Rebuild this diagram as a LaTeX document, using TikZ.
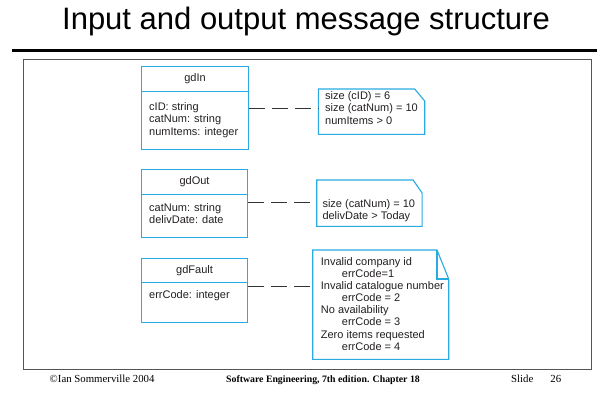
\documentclass[tikz,border=0pt]{standalone}
\usepackage{fontspec}
\setmainfont{Liberation Sans}
\newfontfamily\footfont{Liberation Serif}
\usetikzlibrary{calc}
\definecolor{umlblue}{RGB}{41,171,226}
\definecolor{framegray}{RGB}{85,85,85}
\definecolor{textc}{RGB}{35,31,32}
\begin{document}
\begin{tikzpicture}[x=1pt,y=-1pt,
  umlfont/.style={font=\fontsize{11}{12.5}\selectfont},
  hdr/.style={draw=umlblue, line width=1.1pt, anchor=north west, inner sep=0pt, umlfont, text=textc},
  bodybox/.style={draw=umlblue, line width=1.1pt, anchor=north west, inner sep=0pt},
  attr/.style={anchor=north west, inner sep=0pt, align=left, umlfont, text=textc},
  noteframe/.style={anchor=north west, inner sep=0pt},
  noteline/.style={draw=umlblue, line width=1.1pt, line join=miter},
  conn/.style={draw=black!80, line width=0.9pt, dash pattern=on 16pt off 7pt},
  foot/.style={anchor=base west, inner sep=0pt, font=\footfont\fontsize{10.8}{12}\selectfont}
]
\useasboundingbox (0,0) rectangle (597,402);

% title and rule
\node[anchor=base, inner sep=0pt, font=\fontsize{31}{35}\selectfont] (title) at (306,29.3) {Input and output message structure};
\draw[line width=3pt] (11.7,50.3) -- (597,50.3);

% frame
\draw[framegray, line width=1.2pt] (23.5,59.5) rectangle (591.7,369.5);

% gdIn
\node[hdr, minimum width=107pt, minimum height=25pt] (gdInH) at (141,66) {gdIn};
\node[bodybox, minimum width=107pt, minimum height=58pt] (gdInB) at (141,91) {};
\node[attr] (gdInA) at (149,102) {cID: string\\catNum: string\\numItems: integer};

% gdOut
\node[hdr, minimum width=106pt, minimum height=25pt] (gdOutH) at (141,168.5) {gdOut};
\node[bodybox, minimum width=106pt, minimum height=43pt] (gdOutB) at (141,193.5) {};
\node[attr] (gdOutA) at (149,203) {catNum: string\\delivDate: date};

% gdFault
\node[hdr, minimum width=106pt, minimum height=24pt] (gdFaultH) at (141,257.7) {gdFault};
\node[bodybox, minimum width=106pt, minimum height=40pt] (gdFaultB) at (141,281.7) {};
\node[attr] (gdFaultA) at (149,290.5) {errCode: integer};

% note 1
\node[noteframe, minimum width=106pt, minimum height=45pt] (n1) at (318.3,89) {};
\draw[noteline] (n1.north west) -- ($(n1.north east)+(-10,0)$) -- ($(n1.north east)+(0,12)$) -- (n1.south east) -- (n1.south west) -- cycle;
\node[attr] (n1t) at (325,91) {size (cID) = 6\\size (catNum) = 10\\numItems > 0};

% note 2
\node[noteframe, minimum width=105pt, minimum height=46pt] (n2) at (316.7,180) {};
\draw[noteline] (n2.north west) -- ($(n2.north east)+(-9,0)$) -- ($(n2.north east)+(0,13)$) -- (n2.south east) -- (n2.south west) -- cycle;
\node[attr, font=\fontsize{11}{12}\selectfont] (n2t) at (322.3,199) {size (catNum) = 10\\delivDate > Today};

% note 3
\node[noteframe, minimum width=135.6pt, minimum height=109pt] (n3) at (312.7,250) {};
\draw[noteline] (n3.north west) -- ($(n3.north east)+(-11.7,0)$) -- ($(n3.north east)+(0,29)$) -- (n3.south east) -- (n3.south west) -- cycle;
\draw[noteline] ($(n3.north east)+(-11.7,0)$) -- ($(n3.north east)+(-11.7,29)$) -- ($(n3.north east)+(0,29)$);
\node[attr, font=\fontsize{11}{12.14}\selectfont] (n3t) at (320.7,257) {Invalid company id\\\hspace*{21pt}errCode=1\\Invalid catalogue number\\\hspace*{21pt}errCode = 2\\No availability\\\hspace*{21pt}errCode = 3\\Zero items requested\\\hspace*{21pt}errCode = 4};

% connectors
\path (gdInB.north east) ++(0,17.3) coordinate (c1);
\draw[conn] (c1) -- (c1 -| n1.west);
\path (gdOutB.north east) ++(0,9.2) coordinate (c2);
\draw[conn] (c2) -- (c2 -| n2.west);
\path (gdFaultB.north east) ++(0,5) coordinate (c3);
\draw[conn] (c3) -- (c3 -| n3.west);

% footer
\node[foot] (f1) at (49.5,382) {\textcopyright Ian Sommerville 2004};
\node[foot, anchor=base, font=\footfont\bfseries\fontsize{9.8}{12}\selectfont] (f2) at (323,382) {Software Engineering, 7th edition. Chapter 18};
\node[foot] (f3) at (511,382) {Slide\hspace{17pt}26};
\end{tikzpicture}
\end{document}
